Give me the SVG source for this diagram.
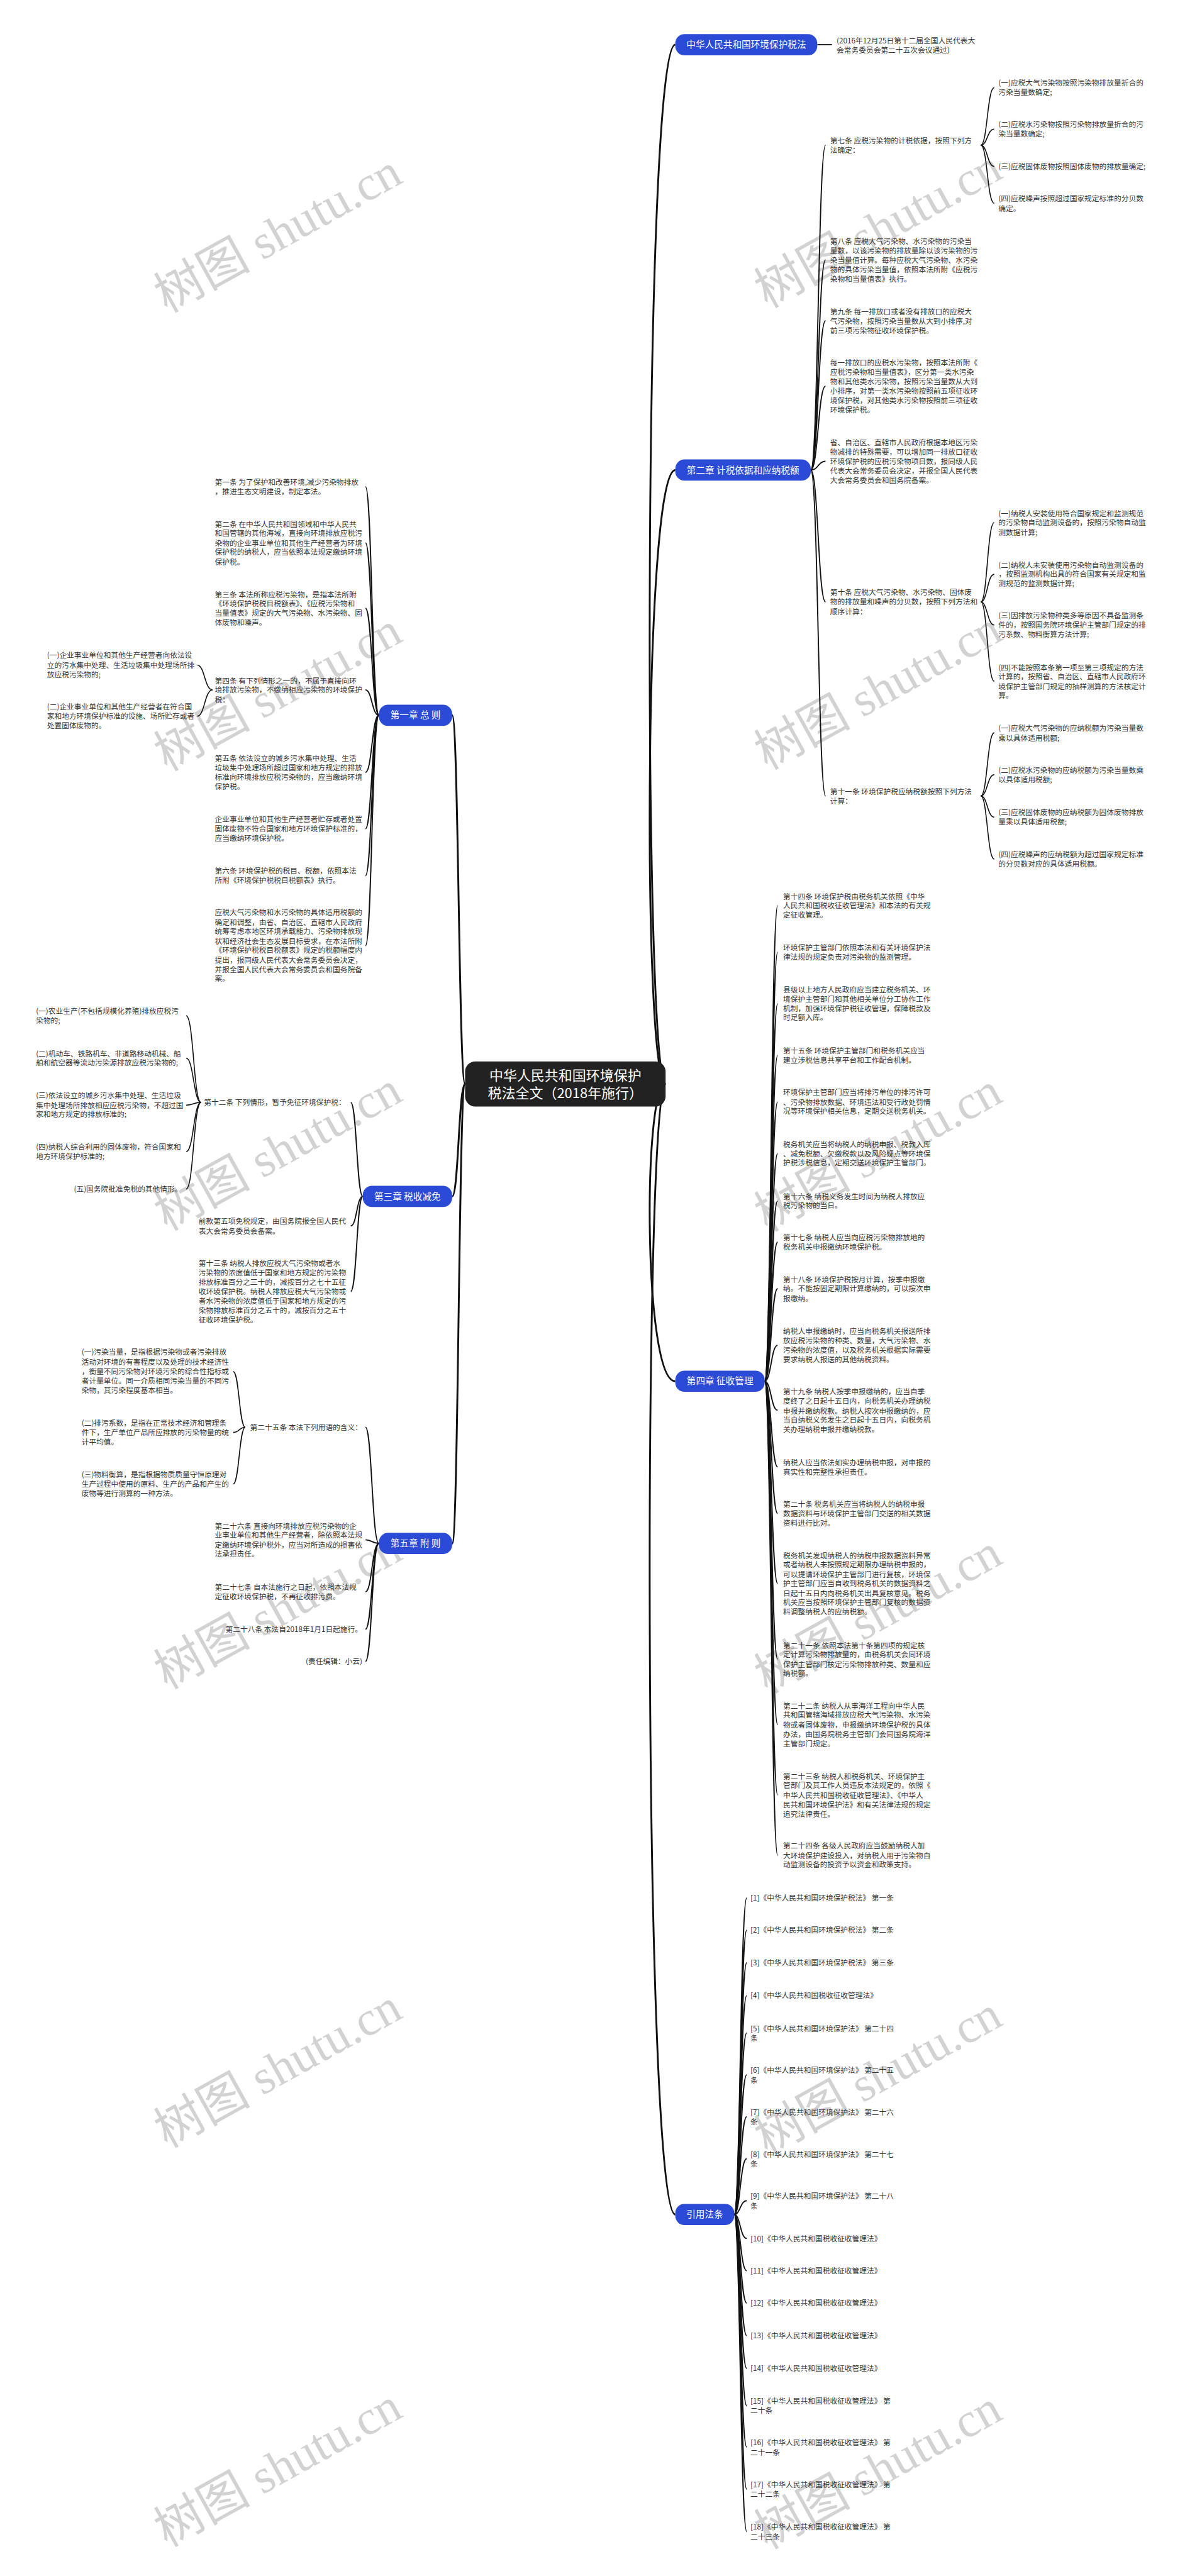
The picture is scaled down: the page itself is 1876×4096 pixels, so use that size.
<svg xmlns="http://www.w3.org/2000/svg" width="1876" height="4096" viewBox="0 0 1876 4096">
<style>
.t{font-family:"Noto Sans CJK SC","Noto Sans",sans-serif;font-size:16px;fill:#333}
.te{font-family:"Noto Sans CJK SC","Noto Sans",sans-serif;font-size:16px;fill:#333;text-anchor:end}
.nt{font-family:"Noto Sans CJK SC","Noto Sans",sans-serif;font-size:20px;fill:#fff;text-anchor:middle}
.ct{font-family:"Noto Sans CJK SC","Noto Sans",sans-serif;font-size:30px;fill:#fff;text-anchor:middle}
.node{fill:#2b4bd6}
.center{fill:#222}
.l0{fill:none;stroke:#111;stroke-width:4}
.l1{fill:none;stroke:#111;stroke-width:2.6}
.l2{fill:none;stroke:#111;stroke-width:2.2}
.wm{font-family:"Liberation Serif","Noto Sans CJK SC",serif;font-size:105px;fill:#d2d2d2;text-anchor:middle}
</style>
<rect width="1876" height="4096" fill="#fff"/>
<g transform="scale(0.732813)">
<g id="watermark">
<text class="wm" x="620" y="537" transform="rotate(-29 620 537)">树图 shutu.cn</text>
<text class="wm" x="620" y="1532" transform="rotate(-29 620 1532)">树图 shutu.cn</text>
<text class="wm" x="620" y="2529" transform="rotate(-29 620 2529)">树图 shutu.cn</text>
<text class="wm" x="620" y="3524" transform="rotate(-29 620 3524)">树图 shutu.cn</text>
<text class="wm" x="620" y="4519" transform="rotate(-29 620 4519)">树图 shutu.cn</text>
<text class="wm" x="620" y="5385" transform="rotate(-29 620 5385)">树图 shutu.cn</text>
<text class="wm" x="1922" y="527" transform="rotate(-29 1922 527)">树图 shutu.cn</text>
<text class="wm" x="1922" y="1529" transform="rotate(-29 1922 1529)">树图 shutu.cn</text>
<text class="wm" x="1922" y="2531" transform="rotate(-29 1922 2531)">树图 shutu.cn</text>
<text class="wm" x="1922" y="3533" transform="rotate(-29 1922 3533)">树图 shutu.cn</text>
<text class="wm" x="1922" y="4535" transform="rotate(-29 1922 4535)">树图 shutu.cn</text>
<text class="wm" x="1922" y="5390" transform="rotate(-29 1922 5390)">树图 shutu.cn</text>
</g>
<g id="connectors">
<path class="l0" d="M1444 2352C1395 2352 1395 97 1465 97"/>
<path class="l0" d="M1444 2352C1395 2352 1395 1020 1465 1020"/>
<path class="l0" d="M1444 2352C1395 2352 1395 2997 1465 2997"/>
<path class="l0" d="M1444 2352C1395 2352 1395 4805 1465 4805"/>
<path class="l0" d="M1009 2352C995 2352 995 1552 981 1552"/>
<path class="l0" d="M1009 2352C995 2352 995 2596 981 2596"/>
<path class="l0" d="M1009 2352C995 2352 995 3349 981 3349"/>
<path class="l1" d="M1773 97L1805 97"/>
<path class="l1" d="M1759 1020C1775 1020 1775 315 1791 315"/>
<path class="l1" d="M1759 1020C1775 1020 1775 564 1791 564"/>
<path class="l1" d="M1759 1020C1775 1020 1775 696 1791 696"/>
<path class="l1" d="M1759 1020C1775 1020 1775 838 1791 838"/>
<path class="l1" d="M1759 1020C1775 1020 1775 1001 1791 1001"/>
<path class="l1" d="M1759 1020C1775 1020 1775 1306 1791 1306"/>
<path class="l1" d="M1759 1020C1775 1020 1775 1727 1791 1727"/>
<path class="l2" d="M2128 315C2142 315 2142 190 2157 190"/>
<path class="l2" d="M2128 315C2142 315 2142 280 2157 280"/>
<path class="l2" d="M2128 315C2142 315 2142 361 2157 361"/>
<path class="l2" d="M2128 315C2142 315 2142 441 2157 441"/>
<path class="l2" d="M2128 1306C2142 1306 2142 1134 2157 1134"/>
<path class="l2" d="M2128 1306C2142 1306 2142 1246 2157 1246"/>
<path class="l2" d="M2128 1306C2142 1306 2142 1356 2157 1356"/>
<path class="l2" d="M2128 1306C2142 1306 2142 1478 2157 1478"/>
<path class="l2" d="M2128 1727C2142 1727 2142 1590 2157 1590"/>
<path class="l2" d="M2128 1727C2142 1727 2142 1681 2157 1681"/>
<path class="l2" d="M2128 1727C2142 1727 2142 1773 2157 1773"/>
<path class="l2" d="M2128 1727C2142 1727 2142 1864 2157 1864"/>
<path class="l1" d="M1659 2997C1673 2997 1673 1965 1687 1965"/>
<path class="l1" d="M1659 2997C1673 2997 1673 2066 1687 2066"/>
<path class="l1" d="M1659 2997C1673 2997 1673 2178 1687 2178"/>
<path class="l1" d="M1659 2997C1673 2997 1673 2290 1687 2290"/>
<path class="l1" d="M1659 2997C1673 2997 1673 2391 1687 2391"/>
<path class="l1" d="M1659 2997C1673 2997 1673 2503 1687 2503"/>
<path class="l1" d="M1659 2997C1673 2997 1673 2606 1687 2606"/>
<path class="l1" d="M1659 2997C1673 2997 1673 2695 1687 2695"/>
<path class="l1" d="M1659 2997C1673 2997 1673 2796 1687 2796"/>
<path class="l1" d="M1659 2997C1673 2997 1673 2919 1687 2919"/>
<path class="l1" d="M1659 2997C1673 2997 1673 3060 1687 3060"/>
<path class="l1" d="M1659 2997C1673 2997 1673 3183 1687 3183"/>
<path class="l1" d="M1659 2997C1673 2997 1673 3284 1687 3284"/>
<path class="l1" d="M1659 2997C1673 2997 1673 3436 1687 3436"/>
<path class="l1" d="M1659 2997C1673 2997 1673 3600 1687 3600"/>
<path class="l1" d="M1659 2997C1673 2997 1673 3742 1687 3742"/>
<path class="l1" d="M1659 2997C1673 2997 1673 3895 1687 3895"/>
<path class="l1" d="M1659 2997C1673 2997 1673 4026 1687 4026"/>
<path class="l1" d="M1593 4805C1606 4805 1606 4118 1620 4118"/>
<path class="l1" d="M1593 4805C1606 4805 1606 4188 1620 4188"/>
<path class="l1" d="M1593 4805C1606 4805 1606 4259 1620 4259"/>
<path class="l1" d="M1593 4805C1606 4805 1606 4330 1620 4330"/>
<path class="l1" d="M1593 4805C1606 4805 1606 4411 1620 4411"/>
<path class="l1" d="M1593 4805C1606 4805 1606 4502 1620 4502"/>
<path class="l1" d="M1593 4805C1606 4805 1606 4593 1620 4593"/>
<path class="l1" d="M1593 4805C1606 4805 1606 4684 1620 4684"/>
<path class="l1" d="M1593 4805C1606 4805 1606 4775 1620 4775"/>
<path class="l1" d="M1593 4805C1606 4805 1606 4857 1620 4857"/>
<path class="l1" d="M1593 4805C1606 4805 1606 4927 1620 4927"/>
<path class="l1" d="M1593 4805C1606 4805 1606 4997 1620 4997"/>
<path class="l1" d="M1593 4805C1606 4805 1606 5068 1620 5068"/>
<path class="l1" d="M1593 4805C1606 4805 1606 5139 1620 5139"/>
<path class="l1" d="M1593 4805C1606 4805 1606 5220 1620 5220"/>
<path class="l1" d="M1593 4805C1606 4805 1606 5310 1620 5310"/>
<path class="l1" d="M1593 4805C1606 4805 1606 5401 1620 5401"/>
<path class="l1" d="M1593 4805C1606 4805 1606 5493 1620 5493"/>
<path class="l1" d="M822 1552C807 1552 807 1056 793 1056"/>
<path class="l1" d="M822 1552C807 1552 807 1178 793 1178"/>
<path class="l1" d="M822 1552C807 1552 807 1320 793 1320"/>
<path class="l1" d="M822 1552C807 1552 807 1497 793 1497"/>
<path class="l1" d="M822 1552C807 1552 807 1676 793 1676"/>
<path class="l1" d="M822 1552C807 1552 807 1798 793 1798"/>
<path class="l1" d="M822 1552C807 1552 807 1900 793 1900"/>
<path class="l1" d="M822 1552C807 1552 807 2052 793 2052"/>
<path class="l2" d="M461 1497C444 1497 444 1443 428 1443"/>
<path class="l2" d="M461 1497C444 1497 444 1554 428 1554"/>
<path class="l1" d="M787 2596C774 2596 774 2392 761 2392"/>
<path class="l1" d="M787 2596C774 2596 774 2660 761 2660"/>
<path class="l1" d="M787 2596C774 2596 774 2802 761 2802"/>
<path class="l2" d="M436 2392C420 2392 420 2204 404 2204"/>
<path class="l2" d="M436 2392C420 2392 420 2296 404 2296"/>
<path class="l2" d="M436 2392C420 2392 420 2398 404 2398"/>
<path class="l2" d="M436 2392C420 2392 420 2499 404 2499"/>
<path class="l2" d="M436 2392C420 2392 420 2580 404 2580"/>
<path class="l1" d="M822 3349C807 3349 807 3097 793 3097"/>
<path class="l1" d="M822 3349C807 3349 807 3341 793 3341"/>
<path class="l1" d="M822 3349C807 3349 807 3454 793 3454"/>
<path class="l1" d="M822 3349C807 3349 807 3535 793 3535"/>
<path class="l1" d="M822 3349C807 3349 807 3605 793 3605"/>
<path class="l2" d="M532 3097C519 3097 519 2976 506 2976"/>
<path class="l2" d="M532 3097C519 3097 519 3108 506 3108"/>
<path class="l2" d="M532 3097C519 3097 519 3220 506 3220"/>
</g>
<g id="center">
<rect class="center" x="1009" y="2303" width="435" height="98" rx="22"/>
<text class="ct" x="1226.5" y="2344">中华人民共和国环境保护</text>
<text class="ct" x="1226.5" y="2382">税法全文（2018年施行）</text>
</g>
<g id="n-title">
<rect class="node" x="1465" y="74" width="308" height="46" rx="20"/>
<text class="nt" x="1619" y="104">中华人民共和国环境保护税法</text>
</g>
<g id="n-desc"><text class="t"><tspan x="1815" y="94">(2016年12月25日第十二届全国人民代表大</tspan><tspan x="1815" y="114">会常务委员会第二十五次会议通过)</tspan></text></g>
<g id="n-ch2">
<rect class="node" x="1465" y="997" width="294" height="46" rx="20"/>
<text class="nt" x="1612" y="1027">第二章 计税依据和应纳税额</text>
</g>
<g id="n-a7"><text class="t"><tspan x="1801" y="311">第七条 应税污染物的计税依据，按照下列方</tspan><tspan x="1801" y="331">法确定：</tspan></text></g>
<g id="n-a7-1"><text class="t"><tspan x="2166" y="186">(一)应税大气污染物按照污染物排放量折合的</tspan><tspan x="2166" y="206">污染当量数确定;</tspan></text></g>
<g id="n-a7-2"><text class="t"><tspan x="2166" y="276">(二)应税水污染物按照污染物排放量折合的污</tspan><tspan x="2166" y="296">染当量数确定;</tspan></text></g>
<g id="n-a7-3"><text class="t"><tspan x="2166" y="367">(三)应税固体废物按照固体废物的排放量确定;</tspan></text></g>
<g id="n-a7-4"><text class="t"><tspan x="2166" y="437">(四)应税噪声按照超过国家规定标准的分贝数</tspan><tspan x="2166" y="458">确定。</tspan></text></g>
<g id="n-a8"><text class="t"><tspan x="1801" y="529">第八条 应税大气污染物、水污染物的污染当</tspan><tspan x="1801" y="549.5">量数，以该污染物的排放量除以该污染物的污</tspan><tspan x="1801" y="570">染当量值计算。每种应税大气污染物、水污染</tspan><tspan x="1801" y="590.5">物的具体污染当量值，依照本法所附《应税污</tspan><tspan x="1801" y="611">染物和当量值表》执行。</tspan></text></g>
<g id="n-a9"><text class="t"><tspan x="1801" y="682">第九条 每一排放口或者没有排放口的应税大</tspan><tspan x="1801" y="702.5">气污染物，按照污染当量数从大到小排序,对</tspan><tspan x="1801" y="723">前三项污染物征收环境保护税。</tspan></text></g>
<g id="n-a9b"><text class="t"><tspan x="1801" y="793">每一排放口的应税水污染物，按照本法所附《</tspan><tspan x="1801" y="813.5">应税污染物和当量值表》，区分第一类水污染</tspan><tspan x="1801" y="834">物和其他类水污染物，按照污染当量数从大到</tspan><tspan x="1801" y="854.5">小排序，对第一类水污染物按照前五项征收环</tspan><tspan x="1801" y="875">境保护税，对其他类水污染物按照前三项征收</tspan><tspan x="1801" y="895.5">环境保护税。</tspan></text></g>
<g id="n-a9c"><text class="t"><tspan x="1801" y="966">省、自治区、直辖市人民政府根据本地区污染</tspan><tspan x="1801" y="986.5">物减排的特殊需要，可以增加同一排放口征收</tspan><tspan x="1801" y="1007">环境保护税的应税污染物项目数，报同级人民</tspan><tspan x="1801" y="1027.5">代表大会常务委员会决定，并报全国人民代表</tspan><tspan x="1801" y="1048">大会常务委员会和国务院备案。</tspan></text></g>
<g id="n-a10"><text class="t"><tspan x="1801" y="1291">第十条 应税大气污染物、水污染物、固体废</tspan><tspan x="1801" y="1312">物的排放量和噪声的分贝数，按照下列方法和</tspan><tspan x="1801" y="1333">顺序计算：</tspan></text></g>
<g id="n-a10-1"><text class="t"><tspan x="2166" y="1120">(一)纳税人安装使用符合国家规定和监测规范</tspan><tspan x="2166" y="1140">的污染物自动监测设备的，按照污染物自动监</tspan><tspan x="2166" y="1161">测数据计算;</tspan></text></g>
<g id="n-a10-2"><text class="t"><tspan x="2166" y="1232">(二)纳税人未安装使用污染物自动监测设备的</tspan><tspan x="2166" y="1252">，按照监测机构出具的符合国家有关规定和监</tspan><tspan x="2166" y="1272">测规范的监测数据计算;</tspan></text></g>
<g id="n-a10-3"><text class="t"><tspan x="2166" y="1342">(三)因排放污染物种类多等原因不具备监测条</tspan><tspan x="2166" y="1362">件的，按照国务院环境保护主管部门规定的排</tspan><tspan x="2166" y="1383">污系数、物料衡算方法计算;</tspan></text></g>
<g id="n-a10-4"><text class="t"><tspan x="2166" y="1454">(四)不能按照本条第一项至第三项规定的方法</tspan><tspan x="2166" y="1474">计算的，按照省、自治区、直辖市人民政府环</tspan><tspan x="2166" y="1495">境保护主管部门规定的抽样测算的方法核定计</tspan><tspan x="2166" y="1515">算。</tspan></text></g>
<g id="n-a11"><text class="t"><tspan x="1801" y="1723">第十一条 环境保护税应纳税额按照下列方法</tspan><tspan x="1801" y="1744">计算：</tspan></text></g>
<g id="n-a11-1"><text class="t"><tspan x="2166" y="1586">(一)应税大气污染物的应纳税额为污染当量数</tspan><tspan x="2166" y="1607">乘以具体适用税额;</tspan></text></g>
<g id="n-a11-2"><text class="t"><tspan x="2166" y="1677">(二)应税水污染物的应纳税额为污染当量数乘</tspan><tspan x="2166" y="1698">以具体适用税额;</tspan></text></g>
<g id="n-a11-3"><text class="t"><tspan x="2166" y="1769">(三)应税固体废物的应纳税额为固体废物排放</tspan><tspan x="2166" y="1789">量乘以具体适用税额;</tspan></text></g>
<g id="n-a11-4"><text class="t"><tspan x="2166" y="1860">(四)应税噪声的应纳税额为超过国家规定标准</tspan><tspan x="2166" y="1881">的分贝数对应的具体适用税额。</tspan></text></g>
<g id="n-ch4">
<rect class="node" x="1465" y="2974" width="194" height="46" rx="20"/>
<text class="nt" x="1562" y="3004">第四章 征收管理</text>
</g>
<g id="n-a14"><text class="t"><tspan x="1699" y="1951">第十四条 环境保护税由税务机关依照《中华</tspan><tspan x="1699" y="1971">人民共和国税收征收管理法》和本法的有关规</tspan><tspan x="1699" y="1991">定征收管理。</tspan></text></g>
<g id="n-a14b"><text class="t"><tspan x="1699" y="2062">环境保护主管部门依照本法和有关环境保护法</tspan><tspan x="1699" y="2083">律法规的规定负责对污染物的监测管理。</tspan></text></g>
<g id="n-a14c"><text class="t"><tspan x="1699" y="2153">县级以上地方人民政府应当建立税务机关、环</tspan><tspan x="1699" y="2174">境保护主管部门和其他相关单位分工协作工作</tspan><tspan x="1699" y="2194">机制，加强环境保护税征收管理，保障税款及</tspan><tspan x="1699" y="2214">时足额入库。</tspan></text></g>
<g id="n-a15"><text class="t"><tspan x="1699" y="2286">第十五条 环境保护主管部门和税务机关应当</tspan><tspan x="1699" y="2306">建立涉税信息共享平台和工作配合机制。</tspan></text></g>
<g id="n-a15b"><text class="t"><tspan x="1699" y="2376">环境保护主管部门应当将排污单位的排污许可</tspan><tspan x="1699" y="2397">、污染物排放数据、环境违法和受行政处罚情</tspan><tspan x="1699" y="2417">况等环境保护相关信息，定期交送税务机关。</tspan></text></g>
<g id="n-a15c"><text class="t"><tspan x="1699" y="2489">税务机关应当将纳税人的纳税申报、税款入库</tspan><tspan x="1699" y="2509">、减免税额、欠缴税款以及风险疑点等环境保</tspan><tspan x="1699" y="2529">护税涉税信息，定期交送环境保护主管部门。</tspan></text></g>
<g id="n-a16"><text class="t"><tspan x="1699" y="2602">第十六条 纳税义务发生时间为纳税人排放应</tspan><tspan x="1699" y="2622">税污染物的当日。</tspan></text></g>
<g id="n-a17"><text class="t"><tspan x="1699" y="2691">第十七条 纳税人应当向应税污染物排放地的</tspan><tspan x="1699" y="2712">税务机关申报缴纳环境保护税。</tspan></text></g>
<g id="n-a18"><text class="t"><tspan x="1699" y="2782">第十八条 环境保护税按月计算，按季申报缴</tspan><tspan x="1699" y="2802">纳。不能按固定期限计算缴纳的，可以按次申</tspan><tspan x="1699" y="2823">报缴纳。</tspan></text></g>
<g id="n-a18b"><text class="t"><tspan x="1699" y="2894">纳税人申报缴纳时，应当向税务机关报送所排</tspan><tspan x="1699" y="2915">放应税污染物的种类、数量，大气污染物、水</tspan><tspan x="1699" y="2935">污染物的浓度值，以及税务机关根据实际需要</tspan><tspan x="1699" y="2956">要求纳税人报送的其他纳税资料。</tspan></text></g>
<g id="n-a19"><text class="t"><tspan x="1699" y="3026">第十九条 纳税人按季申报缴纳的，应当自季</tspan><tspan x="1699" y="3046">度终了之日起十五日内，向税务机关办理纳税</tspan><tspan x="1699" y="3067">申报并缴纳税款。纳税人按次申报缴纳的，应</tspan><tspan x="1699" y="3087">当自纳税义务发生之日起十五日内，向税务机</tspan><tspan x="1699" y="3107">关办理纳税申报并缴纳税款。</tspan></text></g>
<g id="n-a19b"><text class="t"><tspan x="1699" y="3179">纳税人应当依法如实办理纳税申报，对申报的</tspan><tspan x="1699" y="3200">真实性和完整性承担责任。</tspan></text></g>
<g id="n-a20"><text class="t"><tspan x="1699" y="3270">第二十条 税务机关应当将纳税人的纳税申报</tspan><tspan x="1699" y="3290">数据资料与环境保护主管部门交送的相关数据</tspan><tspan x="1699" y="3311">资料进行比对。</tspan></text></g>
<g id="n-a20b"><text class="t"><tspan x="1699" y="3381">税务机关发现纳税人的纳税申报数据资料异常</tspan><tspan x="1699" y="3401">或者纳税人未按照规定期限办理纳税申报的，</tspan><tspan x="1699" y="3422">可以提请环境保护主管部门进行复核，环境保</tspan><tspan x="1699" y="3442">护主管部门应当自收到税务机关的数据资料之</tspan><tspan x="1699" y="3463">日起十五日内向税务机关出具复核意见。税务</tspan><tspan x="1699" y="3483">机关应当按照环境保护主管部门复核的数据资</tspan><tspan x="1699" y="3503">料调整纳税人的应纳税额。</tspan></text></g>
<g id="n-a21"><text class="t"><tspan x="1699" y="3576">第二十一条 依照本法第十条第四项的规定核</tspan><tspan x="1699" y="3596">定计算污染物排放量的，由税务机关会同环境</tspan><tspan x="1699" y="3617">保护主管部门核定污染物排放种类、数量和应</tspan><tspan x="1699" y="3637">纳税额。</tspan></text></g>
<g id="n-a22"><text class="t"><tspan x="1699" y="3707">第二十二条 纳税人从事海洋工程向中华人民</tspan><tspan x="1699" y="3727">共和国管辖海域排放应税大气污染物、水污染</tspan><tspan x="1699" y="3748">物或者固体废物，申报缴纳环境保护税的具体</tspan><tspan x="1699" y="3769">办法，由国务院税务主管部门会同国务院海洋</tspan><tspan x="1699" y="3790">主管部门规定。</tspan></text></g>
<g id="n-a23"><text class="t"><tspan x="1699" y="3860">第二十三条 纳税人和税务机关、环境保护主</tspan><tspan x="1699" y="3880">管部门及其工作人员违反本法规定的，依照《</tspan><tspan x="1699" y="3901">中华人民共和国税收征收管理法》、《中华人</tspan><tspan x="1699" y="3922">民共和国环境保护法》和有关法律法规的规定</tspan><tspan x="1699" y="3942">追究法律责任。</tspan></text></g>
<g id="n-a24"><text class="t"><tspan x="1699" y="4011">第二十四条 各级人民政府应当鼓励纳税人加</tspan><tspan x="1699" y="4032">大环境保护建设投入，对纳税人用于污染物自</tspan><tspan x="1699" y="4052">动监测设备的投资予以资金和政策支持。</tspan></text></g>
<g id="n-refs">
<rect class="node" x="1465" y="4782" width="128" height="46" rx="20"/>
<text class="nt" x="1529" y="4812">引用法条</text>
</g>
<g id="n-r1"><text class="t" x="1628" y="4124">[1]《中华人民共和国环境保护税法》 第一条</text></g>
<g id="n-r2"><text class="t" x="1628" y="4194">[2]《中华人民共和国环境保护税法》 第二条</text></g>
<g id="n-r3"><text class="t" x="1628" y="4265">[3]《中华人民共和国环境保护税法》 第三条</text></g>
<g id="n-r4"><text class="t" x="1628" y="4336">[4]《中华人民共和国税收征收管理法》</text></g>
<g id="n-r5"><text class="t"><tspan x="1628" y="4407">[5]《中华人民共和国环境保护法》 第二十四</tspan><tspan x="1628" y="4428">条</tspan></text></g>
<g id="n-r6"><text class="t"><tspan x="1628" y="4498">[6]《中华人民共和国环境保护法》 第二十五</tspan><tspan x="1628" y="4519">条</tspan></text></g>
<g id="n-r7"><text class="t"><tspan x="1628" y="4589">[7]《中华人民共和国环境保护法》 第二十六</tspan><tspan x="1628" y="4610">条</tspan></text></g>
<g id="n-r8"><text class="t"><tspan x="1628" y="4680">[8]《中华人民共和国环境保护法》 第二十七</tspan><tspan x="1628" y="4701">条</tspan></text></g>
<g id="n-r9"><text class="t"><tspan x="1628" y="4771">[9]《中华人民共和国环境保护法》 第二十八</tspan><tspan x="1628" y="4792">条</tspan></text></g>
<g id="n-r10"><text class="t" x="1628" y="4863">[10]《中华人民共和国税收征收管理法》</text></g>
<g id="n-r11"><text class="t" x="1628" y="4933">[11]《中华人民共和国税收征收管理法》</text></g>
<g id="n-r12"><text class="t" x="1628" y="5003">[12]《中华人民共和国税收征收管理法》</text></g>
<g id="n-r13"><text class="t" x="1628" y="5074">[13]《中华人民共和国税收征收管理法》</text></g>
<g id="n-r14"><text class="t" x="1628" y="5145">[14]《中华人民共和国税收征收管理法》</text></g>
<g id="n-r15"><text class="t"><tspan x="1628" y="5216">[15]《中华人民共和国税收征收管理法》 第</tspan><tspan x="1628" y="5236">二十条</tspan></text></g>
<g id="n-r16"><text class="t"><tspan x="1628" y="5306">[16]《中华人民共和国税收征收管理法》 第</tspan><tspan x="1628" y="5327">二十一条</tspan></text></g>
<g id="n-r17"><text class="t"><tspan x="1628" y="5397">[17]《中华人民共和国税收征收管理法》 第</tspan><tspan x="1628" y="5418">二十二条</tspan></text></g>
<g id="n-r18"><text class="t"><tspan x="1628" y="5489">[18]《中华人民共和国税收征收管理法》 第</tspan><tspan x="1628" y="5510">二十三条</tspan></text></g>
<g id="n-ch1">
<rect class="node" x="822" y="1529" width="159" height="46" rx="20"/>
<text class="nt" x="901.5" y="1559">第一章 总 则</text>
</g>
<g id="n-a1"><text class="t"><tspan x="466" y="1052">第一条 为了保护和改善环境,减少污染物排放</tspan><tspan x="466" y="1072">，推进生态文明建设，制定本法。</tspan></text></g>
<g id="n-a2"><text class="t"><tspan x="466" y="1143">第二条 在中华人民共和国领域和中华人民共</tspan><tspan x="466" y="1163">和国管辖的其他海域，直接向环境排放应税污</tspan><tspan x="466" y="1184">染物的企业事业单位和其他生产经营者为环境</tspan><tspan x="466" y="1204">保护税的纳税人，应当依照本法规定缴纳环境</tspan><tspan x="466" y="1225">保护税。</tspan></text></g>
<g id="n-a3"><text class="t"><tspan x="466" y="1296">第三条 本法所称应税污染物，是指本法所附</tspan><tspan x="466" y="1316">《环境保护税税目税额表》、《应税污染物和</tspan><tspan x="466" y="1336">当量值表》规定的大气污染物、水污染物、固</tspan><tspan x="466" y="1357">体废物和噪声。</tspan></text></g>
<g id="n-a4"><text class="t"><tspan x="466" y="1483">第四条 有下列情形之一的，不属于直接向环</tspan><tspan x="466" y="1503">境排放污染物，不缴纳相应污染物的环境保护</tspan><tspan x="466" y="1524">税：</tspan></text></g>
<g id="n-a4-1"><text class="t"><tspan x="102" y="1428">(一)企业事业单位和其他生产经营者向依法设</tspan><tspan x="102" y="1449">立的污水集中处理、生活垃圾集中处理场所排</tspan><tspan x="102" y="1469">放应税污染物的;</tspan></text></g>
<g id="n-a4-2"><text class="t"><tspan x="102" y="1539">(二)企业事业单位和其他生产经营者在符合国</tspan><tspan x="102" y="1560">家和地方环境保护标准的设施、场所贮存或者</tspan><tspan x="102" y="1580">处置固体废物的。</tspan></text></g>
<g id="n-a5"><text class="t"><tspan x="466" y="1651">第五条 依法设立的城乡污水集中处理、生活</tspan><tspan x="466" y="1671">垃圾集中处理场所超过国家和地方规定的排放</tspan><tspan x="466" y="1692">标准向环境排放应税污染物的，应当缴纳环境</tspan><tspan x="466" y="1712">保护税。</tspan></text></g>
<g id="n-a5b"><text class="t"><tspan x="466" y="1784">企业事业单位和其他生产经营者贮存或者处置</tspan><tspan x="466" y="1804">固体废物不符合国家和地方环境保护标准的，</tspan><tspan x="466" y="1825">应当缴纳环境保护税。</tspan></text></g>
<g id="n-a6"><text class="t"><tspan x="466" y="1895">第六条 环境保护税的税目、税额，依照本法</tspan><tspan x="466" y="1916">所附《环境保护税税目税额表》执行。</tspan></text></g>
<g id="n-a6b"><text class="t"><tspan x="466" y="1986">应税大气污染物和水污染物的具体适用税额的</tspan><tspan x="466" y="2007">确定和调整，由省、自治区、直辖市人民政府</tspan><tspan x="466" y="2027">统筹考虑本地区环境承载能力、污染物排放现</tspan><tspan x="466" y="2048">状和经济社会生态发展目标要求，在本法所附</tspan><tspan x="466" y="2068">《环境保护税税目税额表》规定的税额幅度内</tspan><tspan x="466" y="2089">提出，报同级人民代表大会常务委员会决定，</tspan><tspan x="466" y="2109">并报全国人民代表大会常务委员会和国务院备</tspan><tspan x="466" y="2129">案。</tspan></text></g>
<g id="n-ch3">
<rect class="node" x="787" y="2573" width="194" height="46" rx="20"/>
<text class="nt" x="884" y="2603">第三章 税收减免</text>
</g>
<g id="n-a12"><text class="te" x="750" y="2398">第十二条 下列情形，暂予免征环境保护税：</text></g>
<g id="n-a12-1"><text class="t"><tspan x="78" y="2200">(一)农业生产(不包括规模化养殖)排放应税污</tspan><tspan x="78" y="2220">染物的;</tspan></text></g>
<g id="n-a12-2"><text class="t"><tspan x="78" y="2292">(二)机动车、铁路机车、非道路移动机械、船</tspan><tspan x="78" y="2312">舶和航空器等流动污染源排放应税污染物的;</tspan></text></g>
<g id="n-a12-3"><text class="t"><tspan x="78" y="2383">(三)依法设立的城乡污水集中处理、生活垃圾</tspan><tspan x="78" y="2404">集中处理场所排放相应应税污染物，不超过国</tspan><tspan x="78" y="2424">家和地方规定的排放标准的;</tspan></text></g>
<g id="n-a12-4"><text class="t"><tspan x="78" y="2495">(四)纳税人综合利用的固体废物，符合国家和</tspan><tspan x="78" y="2515">地方环境保护标准的;</tspan></text></g>
<g id="n-a12-5"><text class="te" x="395" y="2586">(五)国务院批准免税的其他情形。</text></g>
<g id="n-a12b"><text class="t"><tspan x="431" y="2656">前款第五项免税规定，由国务院报全国人民代</tspan><tspan x="431" y="2677">表大会常务委员会备案。</tspan></text></g>
<g id="n-a13"><text class="t"><tspan x="431" y="2747">第十三条 纳税人排放应税大气污染物或者水</tspan><tspan x="431" y="2767">污染物的浓度值低于国家和地方规定的污染物</tspan><tspan x="431" y="2788">排放标准百分之三十的，减按百分之七十五征</tspan><tspan x="431" y="2808">收环境保护税。纳税人排放应税大气污染物或</tspan><tspan x="431" y="2829">者水污染物的浓度值低于国家和地方规定的污</tspan><tspan x="431" y="2849">染物排放标准百分之五十的，减按百分之五十</tspan><tspan x="431" y="2870">征收环境保护税。</tspan></text></g>
<g id="n-ch5">
<rect class="node" x="822" y="3326" width="159" height="46" rx="20"/>
<text class="nt" x="901.5" y="3356">第五章 附 则</text>
</g>
<g id="n-a25"><text class="te" x="786" y="3103">第二十五条 本法下列用语的含义：</text></g>
<g id="n-a25-1"><text class="t"><tspan x="177" y="2940">(一)污染当量，是指根据污染物或者污染排放</tspan><tspan x="177" y="2961">活动对环境的有害程度以及处理的技术经济性</tspan><tspan x="177" y="2982">，衡量不同污染物对环境污染的综合性指标或</tspan><tspan x="177" y="3002">者计量单位。同一介质相同污染当量的不同污</tspan><tspan x="177" y="3023">染物，其污染程度基本相当。</tspan></text></g>
<g id="n-a25-2"><text class="t"><tspan x="177" y="3093">(二)排污系数，是指在正常技术经济和管理条</tspan><tspan x="177" y="3114">件下，生产单位产品所应排放的污染物量的统</tspan><tspan x="177" y="3134">计平均值。</tspan></text></g>
<g id="n-a25-3"><text class="t"><tspan x="177" y="3206">(三)物料衡算，是指根据物质质量守恒原理对</tspan><tspan x="177" y="3226">生产过程中使用的原料、生产的产品和产生的</tspan><tspan x="177" y="3246">废物等进行测算的一种方法。</tspan></text></g>
<g id="n-a26"><text class="t"><tspan x="466" y="3317">第二十六条 直接向环境排放应税污染物的企</tspan><tspan x="466" y="3337">业事业单位和其他生产经营者，除依照本法规</tspan><tspan x="466" y="3358">定缴纳环境保护税外，应当对所造成的损害依</tspan><tspan x="466" y="3378">法承担责任。</tspan></text></g>
<g id="n-a27"><text class="t"><tspan x="466" y="3450">第二十七条 自本法施行之日起，依照本法规</tspan><tspan x="466" y="3470">定征收环境保护税，不再征收排污费。</tspan></text></g>
<g id="n-a28"><text class="te" x="786" y="3541">第二十八条 本法自2018年1月1日起施行。</text></g>
<g id="n-editor"><text class="te" x="786" y="3611">(责任编辑：小云)</text></g>
</g>
</svg>
